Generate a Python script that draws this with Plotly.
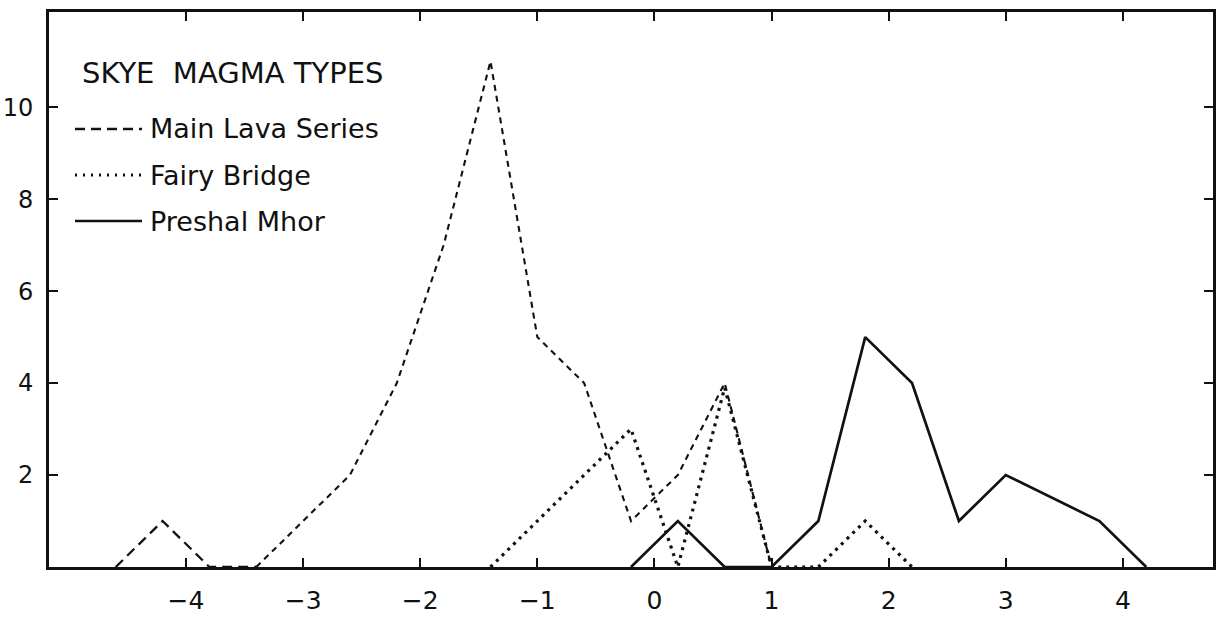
import plotly.graph_objects as go

# ---- data ----
main_x = [-4.6, -4.2, -3.8, -3.4, -3.0, -2.6, -2.2, -1.8, -1.4, -1.0, -0.6, -0.2, 0.2, 0.6, 1.0]
main_y = [0, 1, 0, 0, 1, 2, 4, 7, 11, 5, 4, 1, 2, 4, 0]

fairy_x = [-1.4, -1.0, -0.6, -0.2, 0.2, 0.6, 1.0, 1.4, 1.8, 2.2]
fairy_y = [0, 1, 2, 3, 0, 3.9, 0, 0, 1, 0]

preshal_x = [-0.2, 0.2, 0.6, 1.0, 1.4, 1.8, 2.2, 2.6, 3.0, 3.8, 4.2]
preshal_y = [0, 1, 0, 0, 1, 5, 4, 1, 2, 1, 0]

x_ticks = [-4, -3, -2, -1, 0, 1, 2, 3, 4]
x_ticktext = ["\u22124", "\u22123", "\u22122", "\u22121", "0", "1", "2", "3", "4"]
y_ticks = [2, 4, 6, 8, 10]
y_ticktext = ["2", "4", "6", "8", "10"]

legend_title = "SKYE  MAGMA TYPES"
legend_names = ["Main Lava Series", "Fairy Bridge", "Preshal Mhor"]

# ---- layout geometry (pixels) ----
W, H = 1225, 620
ML, MR, MT, MB = 49, 12, 12, 53
PW, PH = W - ML - MR, H - MT - MB
FONT = "DejaVu Sans"
INK = "#111111"

MAIN_DASH_LONG = "10px,6px"
MAIN_DASH = "6px,5px"
FAIRY_DASH = "3px,5px"


def px_x(p):
    return (p - ML) / PW


def px_y(p):
    return (H - MB - p) / PH


fig = go.Figure()
fig.add_trace(go.Scatter(x=main_x[:4], y=main_y[:4], mode="lines", name=legend_names[0],
                         line=dict(color=INK, width=2.3, dash=MAIN_DASH_LONG), showlegend=False))
fig.add_trace(go.Scatter(x=main_x[3:], y=main_y[3:], mode="lines", name=legend_names[0],
                         line=dict(color=INK, width=2.1, dash=MAIN_DASH), showlegend=False))
fig.add_trace(go.Scatter(x=fairy_x, y=fairy_y, mode="lines", name=legend_names[1],
                         line=dict(color=INK, width=3.2, dash=FAIRY_DASH), showlegend=False))
fig.add_trace(go.Scatter(x=preshal_x, y=preshal_y, mode="lines", name=legend_names[2],
                         line=dict(color=INK, width=2.7), showlegend=False))

# ---- hand-built legend ----
shapes = []
annotations = []
annotations.append(dict(text=legend_title, xref="paper", yref="paper",
                        x=px_x(80), y=px_y(73), xanchor="left", yanchor="middle",
                        showarrow=False, font=dict(family=FONT, size=29, color=INK)))
entry_rows = [129, 175, 221]
entry_dash = [MAIN_DASH_LONG, "2px,6px", "solid"]
entry_width = [2.3, 3.0, 2.7]
for name, row, dsh, wd in zip(legend_names, entry_rows, entry_dash, entry_width):
    shapes.append(dict(type="line", xref="paper", yref="paper",
                       x0=px_x(75), x1=px_x(142), y0=px_y(row), y1=px_y(row),
                       line=dict(color=INK, width=wd, dash=dsh)))
    annotations.append(dict(text=name, xref="paper", yref="paper",
                            x=px_x(148), y=px_y(row), xanchor="left", yanchor="middle",
                            showarrow=False, font=dict(family=FONT, size=27, color=INK)))

axis_common = dict(showline=True, linecolor=INK, linewidth=2.8, mirror="ticks",
                   ticks="inside", ticklen=9, tickwidth=2.4, tickcolor=INK,
                   showgrid=False, zeroline=False, fixedrange=True, automargin=False)

fig.update_layout(
    width=W, height=H,
    margin=dict(l=ML, r=MR, t=MT, b=MB, pad=0, autoexpand=False),
    paper_bgcolor="white", plot_bgcolor="white",
    showlegend=False,
    shapes=shapes, annotations=annotations,
    xaxis=dict(range=[-5.17, 4.77], tickvals=x_ticks, ticktext=x_ticktext,
               tickfont=dict(family=FONT, size=25, color=INK), ticklabelstandoff=9,
               **axis_common),
    yaxis=dict(range=[0, 12.07], tickvals=y_ticks, ticktext=y_ticktext,
               tickfont=dict(family=FONT, size=24, color=INK), ticklabelstandoff=8,
               **axis_common),
)

fig.write_html("out.html", config=dict(displayModeBar=False))
